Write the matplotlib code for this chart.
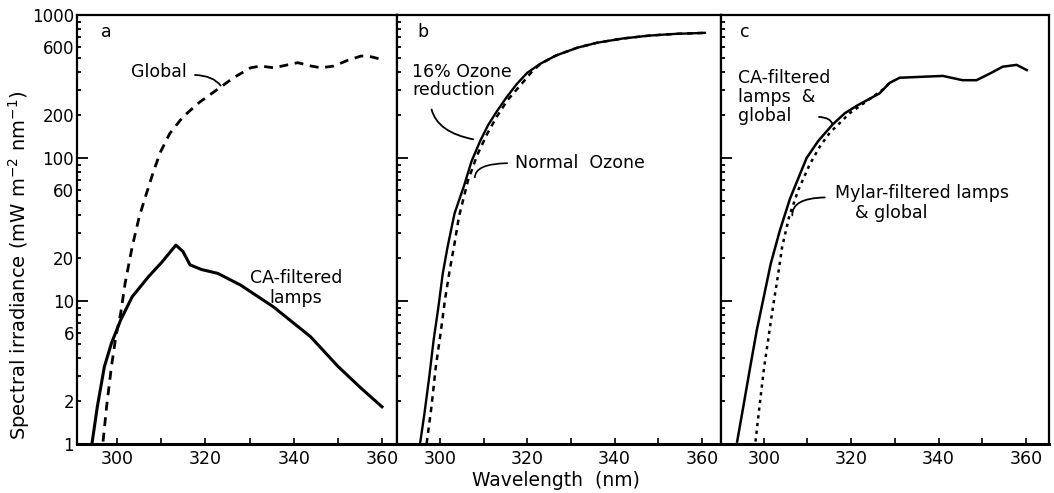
import matplotlib
matplotlib.use("Agg")
import matplotlib.pyplot as plt
from matplotlib.ticker import FixedLocator, FuncFormatter

plt.rcParams['font.family'] = ['DejaVu Sans']
plt.rcParams['font.size'] = 12.5

# ---- panel a: global sunlight and CA-filtered lamps ----
a_global_wl = [296.8, 297.6, 298.7, 299.7, 300.8, 301.8, 303.4, 305.0, 306.6, 308.2,
               309.8, 311.9, 314.9, 318.7, 322.6, 326.3, 330.2, 332.5, 335.5, 338.6,
               340.9, 343.9, 346.2, 349.1, 352.3, 355.3, 357.6, 360.6]
a_global_val = [1.04, 1.82, 3.47, 5.63, 8.2, 13.3, 23.9, 38.8, 56, 80,
                110, 148, 194, 246, 300, 363, 427, 440, 427, 448,
                464, 440, 427, 440, 483, 517, 510, 483]

a_lamp_wl = [294.3, 295.5, 297.1, 298.7, 300.8, 303.4, 307.1, 310.2, 313.3, 314.9,
             316.5, 319.1, 322.8, 328.0, 335.4, 343.8, 350.1, 355.3, 360.0]
a_lamp_val = [1.01, 1.82, 3.47, 5.06, 7.37, 10.7, 14.8, 18.8, 24.6, 22.2,
              17.9, 16.6, 15.6, 12.9, 9.1, 5.63, 3.47, 2.45, 1.82]

# ---- panel b: reduced vs normal ozone ----
b_reduced_wl = [295.4, 296.4, 297.5, 298.5, 299.6, 300.6, 301.7, 303.3, 305.4, 307.2,
                309.2, 311.0, 313.0, 315.2, 317.6, 320.0, 322.9, 326.5, 331.4, 336.0,
                341.9, 348.0, 354.0, 360.7]
b_reduced_val = [1.01, 1.64, 2.96, 5.33, 9.1, 15.6, 23.9, 41, 63, 95,
                 132, 170, 212, 265, 330, 395, 455, 520, 590, 640,
                 685, 718, 738, 750]

b_normal_wl = [296.9, 298.0, 299.0, 300.1, 301.1, 302.2, 303.3, 304.3, 306.4, 308.5,
               310.8, 313.0, 315.5, 318.3, 321.0, 323.0, 326.5, 331.4, 336.0, 341.9,
               348.0, 354.0, 360.7]
b_normal_val = [1.01, 1.82, 3.47, 5.95, 10.2, 16.5, 25.3, 38.8, 70, 105,
                148, 195, 255, 320, 400, 455, 520, 590, 640, 685,
                718, 738, 750]

# ---- panel c: CA- and Mylar-filtered lamps with global ----
c_ca_wl = [293.9, 295.3, 296.9, 298.4, 300.0, 301.6, 303.7, 306.0, 309.8, 312.5,
           315.8, 318.5, 321.3, 326.5, 328.8, 331.1, 336.4, 341.0, 345.5, 348.7,
           351.8, 354.7, 357.9, 360.2]
c_ca_val = [1.04, 1.82, 3.47, 6.27, 10.7, 18.3, 31.3, 52, 100, 132,
            172, 205, 232, 283, 335, 364, 370, 375, 350, 350,
            390, 435, 448, 412]

c_mylar_wl = [298.1, 299.0, 300.0, 301.1, 302.1, 303.2, 304.2, 305.8, 307.9, 310.5,
              312.8, 315.1, 319.7, 324.9, 327.2, 328.8]
c_mylar_val = [1.04, 1.82, 3.3, 5.63, 9.1, 14.8, 23.9, 38.8, 59.8, 90,
               120, 150, 206, 267, 300, 335]

x_major = [300, 320, 340, 360]
x_minor = [310, 330, 350]
y_major = [1, 10, 100, 1000]
y_minor = [m * 10 ** e for e in range(3) for m in range(2, 10)]
y_minor_labels = {2: "2", 6: "6", 20: "20", 60: "60", 200: "200", 600: "600"}

fig = plt.figure(figsize=(10.54, 4.93), dpi=100)
gs = fig.add_gridspec(1, 3, width_ratios=[320, 324, 328], wspace=0,
                      left=77 / 1054, right=1049 / 1054,
                      bottom=1 - 444 / 493, top=1 - 15 / 493)
ax_a = fig.add_subplot(gs[0, 0])
ax_a.set_yscale('log')
ax_b = fig.add_subplot(gs[0, 1], sharey=ax_a)
ax_c = fig.add_subplot(gs[0, 2], sharey=ax_a)
axes = [ax_a, ax_b, ax_c]
xlims = [(290.9, 363.4), (290.1, 364.4), (290.2, 365.3)]

# shared y ticker: set once, after all axes exist
ax_a.set_ylim(1, 1000)
ax_a.yaxis.set_major_locator(FixedLocator(y_major))
ax_a.yaxis.set_minor_locator(FixedLocator(y_minor))
ax_a.yaxis.set_major_formatter(FuncFormatter(lambda v, p: f"{int(round(v))}"))
ax_a.yaxis.set_minor_formatter(
    FuncFormatter(lambda v, p: y_minor_labels.get(int(round(v)), "")))

for i, ax in enumerate(axes):
    ax.set_xlim(*xlims[i])
    for s in ax.spines.values():
        s.set_linewidth(1.6)
    ax.spines['bottom'].set_linewidth(2.2)
    ax.xaxis.set_major_locator(FixedLocator(x_major))
    ax.xaxis.set_minor_locator(FixedLocator(x_minor))
    ax.tick_params(axis='both', which='both', direction='in', top=False, right=False)
    ax.tick_params(axis='x', which='both', length=4, width=1.2, pad=4, labelsize=12.5)
    ax.tick_params(axis='y', which='major', length=8, width=1.3, labelsize=12, pad=2)
    ax.tick_params(axis='y', which='minor', length=3, width=1.3, labelsize=12, pad=2)
    if i > 0:
        ax.tick_params(axis='y', which='both', labelleft=False)

# panel a
ax_a.plot(a_global_wl, a_global_val, color='black', lw=2.0, dashes=(3.2, 2.4))
ax_a.plot(a_lamp_wl, a_lamp_val, color='black', lw=2.2)
ax_a.text(297.5, 760, "a", ha='center', va='center')
ax_a.text(309.4, 400, "Global", ha='center', va='center')
ax_a.annotate("", xy=(323.8, 309), xytext=(317.0, 381),
              arrowprops=dict(arrowstyle='-', lw=1.3, color='black',
                              connectionstyle='angle3,angleA=0,angleB=-60'))
ax_a.text(340.5, 12.3, "CA-filtered\nlamps", ha='center', va='center',
          linespacing=1.1)

# panel b
ax_b.plot(b_normal_wl, b_normal_val, color='black', lw=1.8, dashes=(2.2, 2.0))
ax_b.plot(b_reduced_wl, b_reduced_val, color='black', lw=1.7)
ax_b.text(296.1, 760, "b", ha='center', va='center')
ax_b.text(293.6, 345, "16% Ozone\nreduction", ha='left', va='center',
          linespacing=1.05)
ax_b.annotate("", xy=(308.2, 134), xytext=(297.9, 228),
              arrowprops=dict(arrowstyle='-', lw=1.3, color='black',
                              connectionstyle='angle3,angleA=-80,angleB=-10'))
ax_b.text(317.2, 92, "Normal  Ozone", ha='left', va='center')
ax_b.annotate("", xy=(308.0, 70), xytext=(316.0, 92),
              arrowprops=dict(arrowstyle='-', lw=1.2, color='black',
                              connectionstyle='angle3,angleA=180,angleB=-80'))

# panel c
ax_c.plot(c_mylar_wl, c_mylar_val, color='black', lw=1.8, dashes=(1.3, 1.8))
ax_c.plot(c_ca_wl, c_ca_val, color='black', lw=1.8)
ax_c.text(295.7, 760, "c", ha='center', va='center')
ax_c.text(294.1, 267, "CA-filtered\nlamps  &\nglobal", ha='left', va='center',
          linespacing=1.05)
ax_c.annotate("", xy=(315.8, 165), xytext=(312.0, 194),
              arrowprops=dict(arrowstyle='-', lw=1.3, color='black',
                              connectionstyle='angle3,angleA=0,angleB=90'))
ax_c.text(316.2, 56.9, "Mylar-filtered lamps", ha='left', va='center')
ax_c.text(320.8, 41, "& global", ha='left', va='center')
ax_c.annotate("", xy=(306.6, 38), xytext=(314.6, 53),
              arrowprops=dict(arrowstyle='-', lw=1.3, color='black',
                              connectionstyle='angle3,angleA=180,angleB=-80'))

fig.text(0.018, 1 - 265 / 493, "Spectral irradiance (mW m$^{-2}$ nm$^{-1}$)",
         rotation=90, ha='center', va='center', fontsize=14)
fig.text(556 / 1054, 1 - 480 / 493, "Wavelength  (nm)", ha='center',
         va='center', fontsize=13.5)

fig.savefig("out.png", dpi=100)
